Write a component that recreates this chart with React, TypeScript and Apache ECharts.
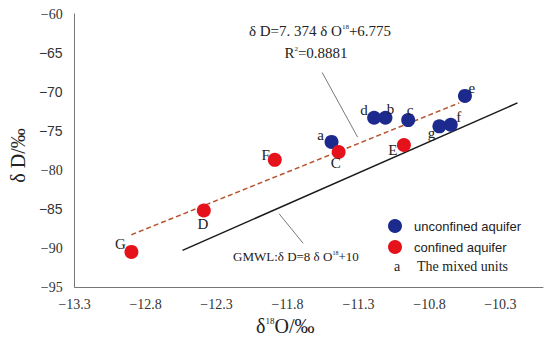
import React, { useEffect, useRef } from 'react';
import * as echarts from 'echarts';

// ---- data ----
const unconfinedNames = ['a', 'b', 'c', 'd', 'e', 'f', 'g'];
const unconfinedO18 = [-11.49, -11.11, -10.95, -11.19, -10.55, -10.65, -10.73];
const unconfinedD = [-76.4, -73.3, -73.6, -73.3, -70.5, -74.2, -74.4];

const confinedNames = ['C', 'D', 'E', 'F', 'G'];
const confinedO18 = [-11.44, -12.39, -10.98, -11.89, -12.9];
const confinedD = [-77.7, -85.2, -76.8, -78.7, -90.5];

const regressionO18 = [-12.9, -10.59];
const regressionD = [-88.3, -71.4];
const gmwlO18 = [-12.54, -10.18];
const gmwlD = [-90.3, -71.4];

// leader lines of the equation notes
const regLeaderO18 = [-11.556, -11.306];
const regLeaderD = [-67.5, -75.8];
const gmwlLeaderO18 = [-11.86, -11.69];
const gmwlLeaderD = [-85.6, -89.4];

const xMin = -13.3;
const xMax = -10.0;
const xStep = 0.5;
const yMin = -95;
const yMax = -60;
const yStep = 5;
// y tick labels that are printed in a sans face in the reference
const ySansTicks = [-65, -70, -75, -85];

// label offsets (layout only)
const unconfinedLabelOffset: Record<string, number[]> = {
  a: [-11, -7], b: [5, -9], c: [2, -10], d: [-10, -8], e: [7, -8], f: [8, -8], g: [-8, 7],
};
const confinedLabelOffset: Record<string, number[]> = {
  C: [-3, 11], D: [-1, 13], E: [-11, 5], F: [-9, -5], G: [-11, -8],
};

const SERIF = '"Liberation Serif", "Times New Roman", serif';
const SANS = '"Liberation Sans", Arial, sans-serif';
const BLUE = '#1c2a8e';
const RED = '#e6121b';

const pts = (xs: number[], ys: number[]) => xs.map((x, i) => [x, ys[i]]);
const minus = (s: string) => s.replace('-', '\u2212');

export default function App() {
  const ref = useRef<HTMLDivElement>(null);
  useEffect(() => {
    if (!ref.current) return;
    const chart = echarts.init(ref.current, undefined, { renderer: 'svg' });
    const pointLabel = (offsets: Record<string, number[]>) => (name: string) => ({
      show: true,
      position: 'inside',
      offset: offsets[name],
      formatter: name,
      fontFamily: SERIF,
      fontSize: 15,
      color: '#222',
    });
    const uLab = pointLabel(unconfinedLabelOffset);
    const cLab = pointLabel(confinedLabelOffset);
    chart.setOption({
      animation: false,
      backgroundColor: '#ffffff',
      grid: { left: 70, top: 14, right: 7, bottom: 55, containLabel: false },
      legend: {
        data: ['unconfined aquifer', 'confined aquifer'],
        orient: 'vertical',
        left: 383,
        top: 214,
        itemWidth: 28,
        itemHeight: 14,
        itemGap: 7,
        icon: 'circle',
        textStyle: { fontFamily: SANS, fontSize: 13, color: '#222' },
      },
      xAxis: {
        type: 'value',
        min: xMin,
        max: xMax,
        interval: xStep,
        name: '\u03b4{sup|18}O/\u2030',
        nameLocation: 'middle',
        nameGap: 29,
        nameTextStyle: {
          fontFamily: SERIF,
          fontSize: 20,
          color: '#222',
          padding: [0, 47, 0, 0],
          rich: { sup: { fontFamily: SERIF, fontSize: 9, verticalAlign: 'top', color: '#222' } },
        },
        axisLine: { show: true, lineStyle: { color: '#777', width: 1 } },
        axisTick: { show: false },
        splitLine: { show: false },
        axisLabel: {
          margin: 10,
          color: '#333',
          showMaxLabel: false,
          formatter: (v: number) => (Math.abs(v - xMax) < 1e-6 ? '' : '{s|' + minus(v.toFixed(1)) + '}'),
          rich: { s: { fontFamily: SERIF, fontSize: 14, color: '#333' } },
        },
      },
      yAxis: {
        type: 'value',
        min: yMin,
        max: yMax,
        interval: yStep,
        name: '\u03b4 D/\u2030',
        nameLocation: 'middle',
        nameGap: 44,
        nameRotate: 90,
        nameTextStyle: { fontFamily: SERIF, fontSize: 20, color: '#222', padding: [0, 10, 0, 0] },
        axisLine: { show: true, lineStyle: { color: '#777', width: 1 } },
        axisTick: { show: false },
        splitLine: { show: false },
        axisLabel: {
          margin: 12,
          color: '#333',
          formatter: (v: number) =>
            (ySansTicks.includes(v) ? '{n|' : '{s|') + minus(String(v)) + '}',
          rich: {
            s: { fontFamily: SERIF, fontSize: 14, color: '#333' },
            n: { fontFamily: SANS, fontSize: 14, color: '#333' },
          },
        },
      },
      graphic: [
        {
          type: 'text',
          x: 320,
          y: 31,
          silent: true,
          style: {
            text: '\u03b4 D=7. 374 \u03b4 O{sup|18}+6.775',
            font: `15px ${SERIF}`,
            fill: '#222',
            align: 'center',
            verticalAlign: 'middle',
            rich: { sup: { fontSize: 7, fontFamily: SERIF, verticalAlign: 'top', fill: '#222' } },
          },
        },
        {
          type: 'text',
          x: 316,
          y: 53,
          silent: true,
          style: {
            text: 'R{sup|2}=0.8881',
            font: `15px ${SERIF}`,
            fill: '#222',
            align: 'center',
            verticalAlign: 'middle',
            rich: { sup: { fontSize: 7, fontFamily: SERIF, verticalAlign: 'top', fill: '#222' } },
          },
        },
        {
          type: 'text',
          x: 233,
          y: 256,
          silent: true,
          style: {
            text: 'GMWL:\u03b4 D=8 \u03b4 O{sup|18}+10',
            font: `13px ${SERIF}`,
            fill: '#222',
            align: 'left',
            verticalAlign: 'middle',
            rich: { sup: { fontSize: 6, fontFamily: SERIF, verticalAlign: 'top', fill: '#222' } },
          },
        },
        {
          type: 'text',
          x: 397,
          y: 266,
          silent: true,
          style: { text: 'a', font: `14px ${SERIF}`, fill: '#222', align: 'center', verticalAlign: 'middle' },
        },
        {
          type: 'text',
          x: 417,
          y: 266,
          silent: true,
          style: { text: 'The mixed units', font: `14px ${SERIF}`, fill: '#222', align: 'left', verticalAlign: 'middle' },
        },
      ],
      series: [
        {
          type: 'line',
          name: 'regression',
          data: pts(regressionO18, regressionD),
          showSymbol: false,
          silent: true,
          lineStyle: { color: '#b8532f', width: 1.5, type: [5, 3] },
          z: 1,
        },
        {
          type: 'line',
          name: 'GMWL',
          data: pts(gmwlO18, gmwlD),
          showSymbol: false,
          silent: true,
          lineStyle: { color: '#1a1a1a', width: 1.5 },
          z: 1,
        },
        {
          type: 'line',
          name: 'regLeader',
          data: pts(regLeaderO18, regLeaderD),
          showSymbol: false,
          silent: true,
          lineStyle: { color: '#555', width: 0.8 },
          z: 1,
        },
        {
          type: 'line',
          name: 'gmwlLeader',
          data: pts(gmwlLeaderO18, gmwlLeaderD),
          showSymbol: false,
          silent: true,
          lineStyle: { color: '#555', width: 0.8 },
          z: 1,
        },
        {
          type: 'scatter',
          name: 'unconfined aquifer',
          symbolSize: 14,
          itemStyle: { color: BLUE, opacity: 1 },
          data: unconfinedNames.map((n, i) => ({
            name: n,
            value: [unconfinedO18[i], unconfinedD[i]],
            label: uLab(n),
          })),
          z: 3,
        },
        {
          type: 'scatter',
          name: 'confined aquifer',
          symbolSize: 14,
          itemStyle: { color: RED, opacity: 1 },
          data: confinedNames.map((n, i) => ({
            name: n,
            value: [confinedO18[i], confinedD[i]],
            label: cLab(n),
          })),
          z: 3,
        },
      ],
    });
    return () => chart.dispose();
  }, []);
  return (
    <div
      ref={ref}
      style={{ position: 'fixed', left: 0, top: 0, width: 550, height: 342, background: '#fff' }}
    />
  );
}
